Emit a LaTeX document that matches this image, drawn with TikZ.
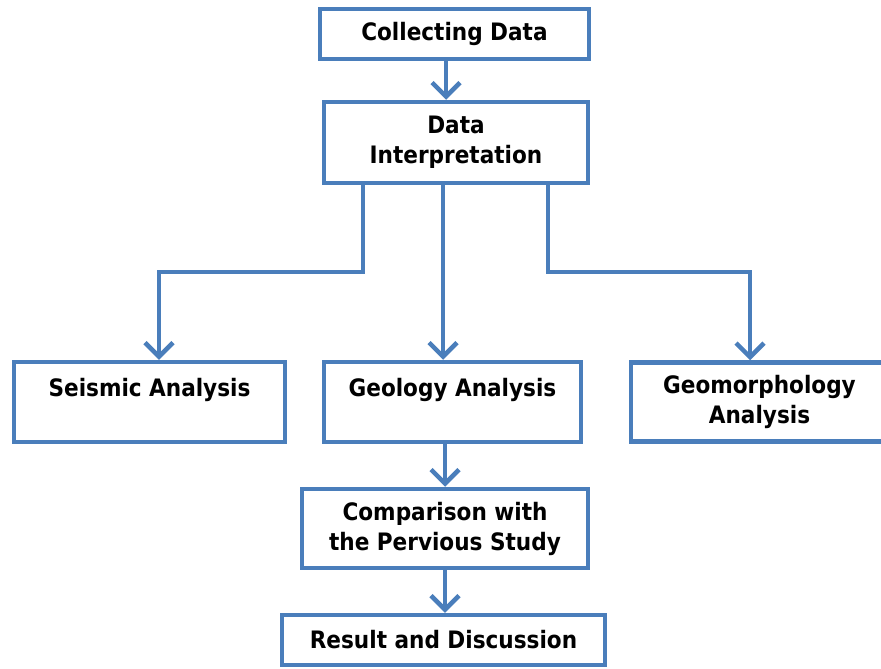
\documentclass[tikz,border=0pt]{standalone}
\usepackage{fontspec}
\newfontfamily\boxfont{DejaVu Sans Condensed}
\usetikzlibrary{arrows.meta}
\definecolor{boxblue}{RGB}{74,126,187}
\tikzset{
  box/.style={draw=boxblue, line width=4.5pt, fill=white, inner sep=0pt,
    align=center, font=\boxfont\bfseries\fontsize{24pt}{30pt}\selectfont},
  arr/.style={draw=boxblue, line width=4.5pt,
    -{Straight Barb[length=14pt,width=28pt]}}
}
\begin{document}
\begin{tikzpicture}[x=1pt,y=-1pt]
\clip (0,0) rectangle (881,669);
\useasboundingbox (0,0) rectangle (881,669);
\node[box, minimum width=269pt, minimum height=50pt] (cd) at (454.5,34) {Collecting Data};
\node[box, minimum width=264pt, minimum height=81pt] (di) at (456,142.5) {Data\\Interpretation};
\node[box, minimum width=271pt, minimum height=80pt] (sa) at (149.5,402) {Seismic Analysis\\\mbox{}};
\node[box, minimum width=257pt, minimum height=80pt] (ga) at (452.5,402) {Geology Analysis\\\mbox{}};
\node[box, minimum width=257pt, minimum height=79pt] (gm) at (759.5,402) {Geomorphology\\Analysis};
\node[box, minimum width=286pt, minimum height=79pt] (cp) at (445,528.5) {Comparison with\\the Pervious Study};
\node[box, minimum width=323pt, minimum height=50pt] (rd) at (443.5,640) {Result and Discussion};
\draw[arr] ([xshift=-8.5pt]cd.south) -- ([xshift=-10pt]di.north);
\draw[arr] ([xshift=-93pt]di.south) |- (159,272) -- ([xshift=9.5pt]sa.north);
\draw[arr] ([xshift=-13pt]di.south) -- ([xshift=-9.5pt]ga.north);
\draw[arr] ([xshift=92pt]di.south) |- (750,272) -- ([xshift=-9.5pt]gm.north);
\draw[arr] ([xshift=-7.5pt]ga.south) -- (cp.north);
\draw[arr] (cp.south) -- ([xshift=1.5pt]rd.north);
\end{tikzpicture}
\end{document}
